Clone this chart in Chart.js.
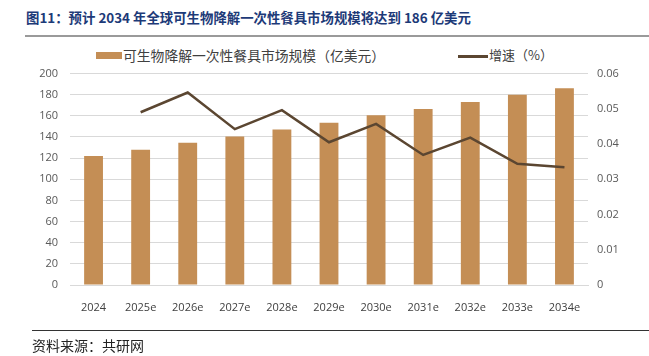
<!DOCTYPE html>
<html><head><meta charset="utf-8">
<script src="https://cdn.jsdelivr.net/npm/chart.js@4"></script>
<style>
body{margin:0;width:649px;height:356px;background:#fff;position:relative;overflow:hidden;font-family:"Noto Sans CJK SC",sans-serif;}
#title{position:absolute;left:26px;top:7px;font-size:13.4px;font-weight:bold;color:#1d3a78;white-space:nowrap;letter-spacing:0px;}
#tline{position:absolute;left:25px;top:35px;width:624px;height:2px;background:#9a9a9a;}
#bline{position:absolute;left:32px;top:330px;width:617px;height:1px;background:#333;}
#src{position:absolute;left:32px;top:335px;font-size:14px;color:#222;white-space:nowrap;}
.lg{position:absolute;font-size:13.8px;color:#404040;white-space:nowrap;}
canvas{position:absolute;left:0;top:0;}
</style></head><body>
<div id="title">图11：预计 2034 年全球可生物降解一次性餐具市场规模将达到 186 亿美元</div>
<div id="tline"></div>
<div style="position:absolute;left:96px;top:52px;width:26px;height:7px;background:#c48e55"></div>
<div class="lg" style="left:123px;top:45px;">可生物降解一次性餐具市场规模（亿美元）</div>
<div style="position:absolute;left:458px;top:55px;width:30px;height:2.5px;background:#5b4631"></div>
<div class="lg" style="left:489px;top:45px;font-size:13px;">增速（%）</div>
<canvas id="c" width="649" height="356"></canvas>
<div id="bline"></div>
<div id="src">资料来源：共研网</div>
<script>
const categories=["2024","2025e","2026e","2027e","2028e","2029e","2030e","2031e","2032e","2033e","2034e"];
const marketSize=[122,128,134.5,140.5,147,153.5,160.5,166.5,173,180,186];
const growthRate=[null,0.049,0.0546,0.0442,0.0496,0.0405,0.0457,0.0369,0.0418,0.0344,0.0334];
const leftTicks=[0,200,20];
const rightTicks=[0,0.06,0.01];
const tickFont={family:"'Open Sans','Noto Sans CJK SC',sans-serif",size:11};
new Chart(document.getElementById('c'),{
  data:{labels:categories,datasets:[
    {type:'line',label:'增速（%）',data:growthRate,yAxisID:'y1',borderColor:'#5b4631',borderWidth:2.5,pointRadius:0,tension:0,order:0},
    {type:'bar',label:'可生物降解一次性餐具市场规模（亿美元）',data:marketSize,yAxisID:'y',backgroundColor:'#c48e55',categoryPercentage:0.8,barPercentage:0.5,order:1}
  ]},
  options:{responsive:false,animation:false,
    layout:{padding:{top:73.5,bottom:41,left:0,right:0}},
    plugins:{legend:{display:false},tooltip:{enabled:false}},
    scales:{
      x:{grid:{display:false},border:{display:true,color:'#d9d9d9'},ticks:{color:'#404040',font:tickFont,padding:8,maxRotation:0,autoSkip:false},afterFit:s=>{s.height=30;}},
      y:{position:'left',min:leftTicks[0],max:leftTicks[1],ticks:{stepSize:leftTicks[2],color:'#595959',font:tickFont,padding:12},grid:{color:'#d9d9d9',drawTicks:false},border:{display:false},afterFit:s=>{s.width=70;}},
      y1:{position:'right',min:rightTicks[0],max:rightTicks[1],ticks:{stepSize:rightTicks[2],color:'#595959',font:tickFont,padding:9},grid:{display:false,drawTicks:false},border:{display:false},afterFit:s=>{s.width=61;}}
    }
  }
});
</script>
</body></html>
